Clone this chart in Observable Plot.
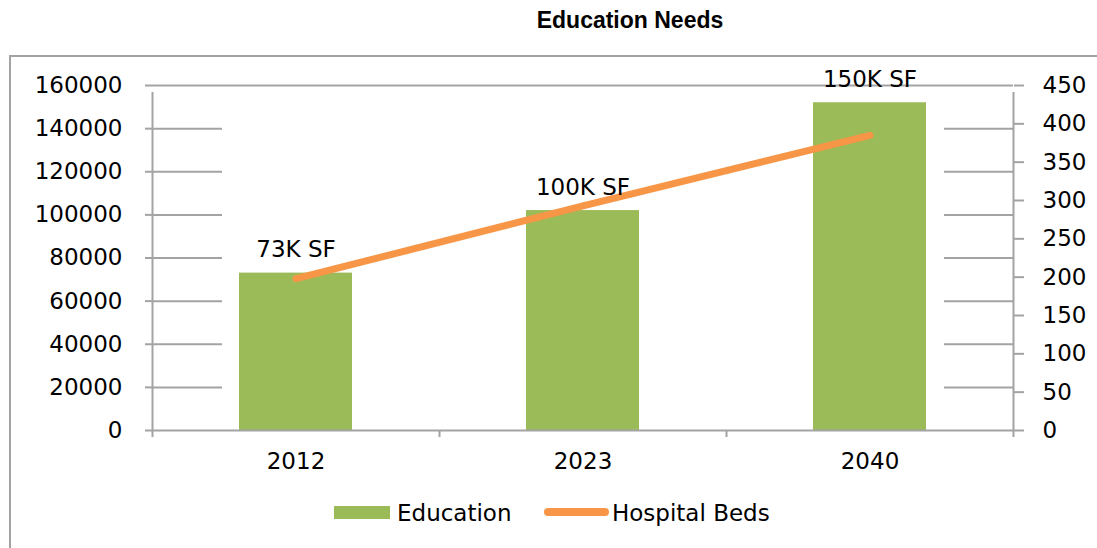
<!DOCTYPE html>
<html>
<head>
<meta charset="utf-8">
<script src="https://cdn.jsdelivr.net/npm/d3@7"></script>
<script src="https://cdn.jsdelivr.net/npm/@observablehq/plot@0.6"></script>
<style>
  html, body { margin: 0; padding: 0; background: #fff; }
  #wrap { position: relative; width: 1097px; height: 548px; overflow: hidden; font-family: "DejaVu Sans", sans-serif; }
  #frame { position: absolute; left: 9px; top: 55px; width: 1200px; height: 600px; border-left: 2px solid #a3a3a3; border-top: 2px solid #a3a3a3; }
  #title { position: absolute; left: 430px; width: 400px; top: 9px; text-align: center; font-family: "Liberation Sans", Arial, sans-serif; font-weight: bold; font-size: 23px; line-height: 23px; color: #000; }
  #chart { position: absolute; left: 0; top: 0; }
  .lg { position: absolute; font-size: 23px; line-height: 23px; color: #000; white-space: nowrap; }
</style>
</head>
<body>
<div id="wrap">
  <div id="frame"></div>
  <div id="title">Education Needs</div>
  <div id="chart"></div>
  <div class="lg" style="left:334px;top:506px;width:56px;height:13px;background:#9BBB59"></div>
  <div class="lg" style="left:397px;top:502px">Education</div>
  <div class="lg" style="left:544px;top:508px;width:65px;height:8px;border-radius:4px;background:#F79646"></div>
  <div class="lg" style="left:612px;top:502px">Hospital Beds</div>
</div>
<script>
// ---- data ----
const years = ["2012", "2023", "2040"];
const education = [73000, 102000, 152000];
const hospitalBeds = [198, 293, 385];
const barLabels = ["73K SF", "100K SF", "150K SF"];
const leftTicks = [0, 20000, 40000, 60000, 80000, 100000, 120000, 140000, 160000];
const rightTicks = [0, 50, 100, 150, 200, 250, 300, 350, 400, 450];

const leftMax = 160000, rightMax = 450;
const ratio = leftMax / rightMax;
const rows = years.map((y, i) => ({i, year: y, education: education[i], beds: hospitalBeds[i], label: barLabels[i]}));
const gray = "#a3a3a3";

const chart = Plot.plot({
  width: 1097,
  height: 470,
  marginLeft: 152,
  marginRight: 84,
  marginTop: 85,
  marginBottom: 40,
  x: {type: "linear", domain: [0, years.length]},
  y: {domain: [0, leftMax]},
  style: {fontFamily: "DejaVu Sans", fontSize: "23px", color: "#000", background: "transparent", overflow: "visible"},
  marks: [
    // partial gridlines (left and right segments)
    Plot.ruleY(leftTicks.slice(1, -1), {y: d => d, stroke: gray, strokeWidth: 2, insetRight: 791}),
    Plot.ruleY(leftTicks.slice(1, -1), {y: d => d, stroke: gray, strokeWidth: 2, insetLeft: 792}),
    // top line
    Plot.ruleY([leftMax], {stroke: gray, strokeWidth: 2}),
    // bars
    Plot.rect(rows, {x1: "i", x2: d => d.i + 1, y1: () => 0, y2: "education", fill: "#9BBB59", insetLeft: 87, insetRight: 87,
      style: "filter: drop-shadow(2px 0px 2px rgba(0,0,0,0.22))"}),
    Plot.ruleY([0], {stroke: gray, strokeWidth: 2}),
    // axis lines
    Plot.ruleX([0, years.length], {y1: 0, y2: leftMax, stroke: gray, strokeWidth: 2, insetBottom: -7}),
    // line
    Plot.line(rows, {x: d => d.i + 0.5, y: d => d.beds * ratio, stroke: "#F79646", strokeWidth: 7, strokeLinecap: "round", strokeLinejoin: "round"}),
    // bar labels
    Plot.text(rows, {x: d => d.i + 0.5, y: "education", text: "label", dy: -16, lineAnchor: "bottom", fill: "#000", fontSize: 23}),
    // left axis
    Plot.axisY(leftTicks, {anchor: "left", tickSize: 7, tickPadding: 23, stroke: gray, strokeWidth: 2, fill: "#000", tickFormat: d => String(d), label: null}),
    // right axis
    Plot.axisY(rightTicks.map(v => v * ratio), {anchor: "right", tickSize: 10, tickPadding: 19, stroke: gray, strokeWidth: 2, fill: "#000", tickFormat: d => String(Math.round(d / ratio)), label: null}),
    // bottom axis: boundary ticks and category labels
    Plot.axisX(d3.range(years.length + 1), {tickSize: 7, stroke: gray, strokeWidth: 2, tickFormat: () => "", label: null}),
    Plot.axisX(years.map((y, i) => i + 0.5), {tickSize: 0, tickPadding: 22, fill: "#000", tickFormat: d => years[Math.floor(d)], label: null})
  ]
});
document.getElementById("chart").appendChild(chart);
</script>
</body>
</html>
